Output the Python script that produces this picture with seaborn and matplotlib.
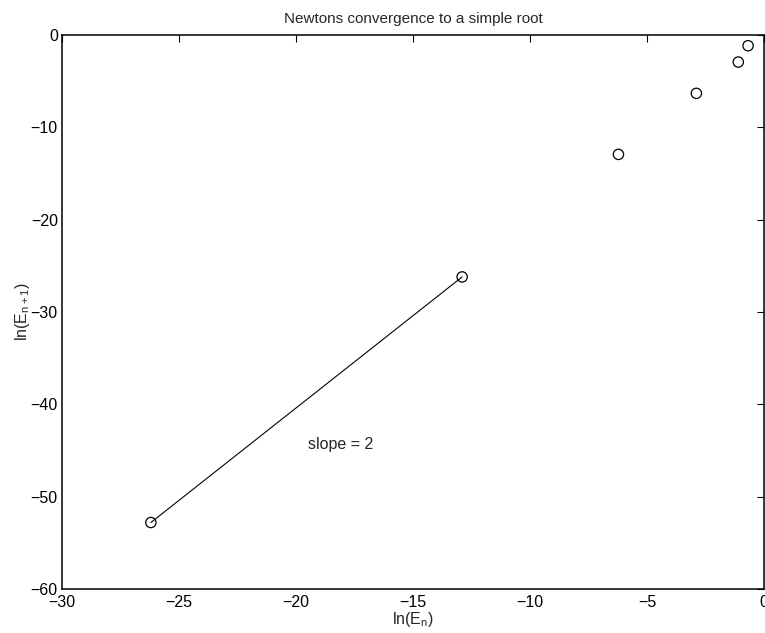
import numpy as np
import pandas as pd
import matplotlib
matplotlib.use('Agg')
import matplotlib.pyplot as plt
import seaborn as sns

# iterates: ln(E_n) vs ln(E_{n+1})
ln_en = [-0.68, -1.10, -2.89, -6.22, -12.9, -26.2]
ln_en1 = [-1.16, -2.93, -6.32, -12.93, -26.2, -52.8]

# the two points joined by the slope line
line_x = [-26.2, -12.9]
line_y = [-52.8, -26.2]

x_ticks = [-30, -25, -20, -15, -10, -5, 0]
y_ticks = [-60, -50, -40, -30, -20, -10, 0]

sns.set_style('white')
plt.rcParams['font.family'] = ['Liberation Sans', 'DejaVu Sans']
plt.rcParams['mathtext.default'] = 'regular'

fig = plt.figure(figsize=(7.65, 6.33), dpi=100)
ax = fig.add_axes([0.081, 0.0695, 0.9177, 0.8752])

df = pd.DataFrame({'x': ln_en, 'y': ln_en1})
sns.scatterplot(data=df, x='x', y='y', ax=ax, marker='o', s=55,
                facecolor='none', edgecolor='black', linewidth=0.9)
sns.lineplot(x=line_x, y=line_y, ax=ax, color='black', linewidth=0.8)

ax.text(-19.5, -44.4, 'slope = 2', fontsize=11.5, va='center', ha='left')

ax.set_xlim(-30, 0)
ax.set_ylim(-60, 0)
ax.set_xticks(x_ticks)
ax.set_yticks(y_ticks)
ax.set_xticklabels([f'\u2212{abs(t)}' if t < 0 else str(t) for t in x_ticks])
ax.set_yticklabels([f'\u2212{abs(t)}' if t < 0 else str(t) for t in y_ticks])
ax.tick_params(direction='in', length=5, width=0.8, top=True, right=True,
               labelsize=11.5, colors='black')
ax.tick_params(axis='x', pad=4)
ax.tick_params(axis='y', pad=3)
for s in ax.spines.values():
    s.set_linewidth(1.1)
    s.set_color('black')

ax.set_xlabel('ln(E$_n$)', fontsize=11.5, labelpad=0)
ax.set_ylabel('ln(E$_{n+1}$)', fontsize=11.5, labelpad=-1)
ax.set_title('Newtons convergence to a simple root', fontsize=11, pad=9)

fig.savefig('out.png', dpi=100)
